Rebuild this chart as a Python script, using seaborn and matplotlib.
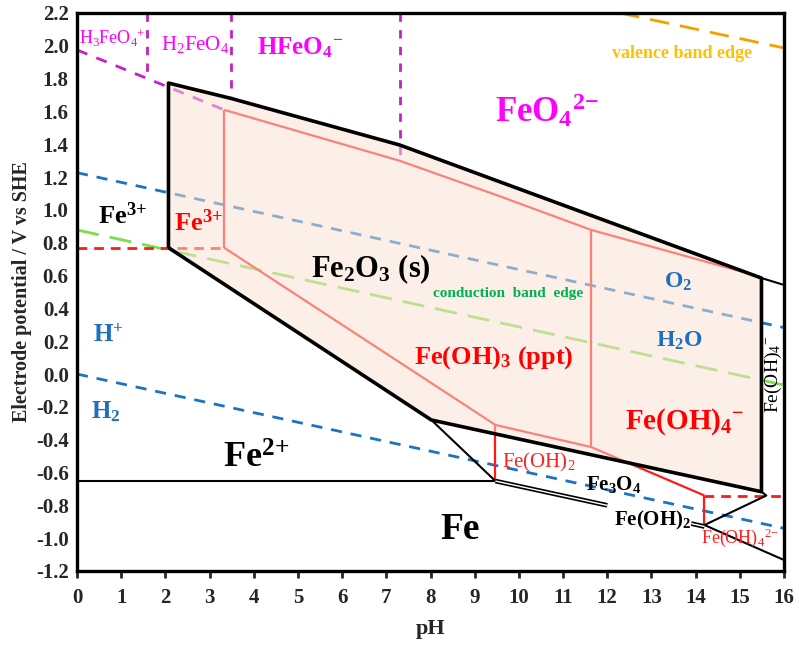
import numpy as np
import pandas as pd
import matplotlib
matplotlib.use("Agg")
import matplotlib.pyplot as plt
import seaborn as sns

# ---------------- data (pH, potential / V vs SHE) ----------------
hull_ph = [2.07, 2.07, 3.48, 7.30, 15.49, 15.49, 8.02, 2.07]
hull_v = [0.77, 1.773, 1.68, 1.396, 0.585, -0.717, -0.28, 0.77]

thin1_ph = [15.49, 16.0]
thin1_v = [0.585, 0.543]
fe2_fe_ph = [0.0, 9.47]
fe2_fe_v = [-0.652, -0.652]
fe2_fe3o4_ph = [8.02, 9.47]
fe2_fe3o4_v = [-0.28, -0.652]
fe3o4_fe_ph = [9.47, 12.0]
fe3o4_fe_v = [-0.652, -0.80]
feoh2_fe_ph = [13.9, 14.2]
feoh2_fe_v = [-0.911, -0.929]
feoh2_up_ph = [14.2, 15.6, 15.49]
feoh2_up_v = [-0.92, -0.74, -0.717]
feoh4_fe_ph = [14.2, 16.0]
feoh4_fe_v = [-0.92, -1.133]

red_v1_ph = [3.33, 3.33]
red_v1_v = [0.77, 1.61]
red_top_ph = [3.33, 7.30, 9.50, 11.64, 15.10]
red_top_v = [1.61, 1.30, 1.09, 0.878, 0.62]
red_low_ph = [3.33, 9.47, 11.64, 14.2]
red_low_v = [0.77, -0.31, -0.445, -0.74]
red_v2_ph = [11.64, 11.64]
red_v2_v = [0.878, -0.445]
red_v3_ph = [9.47, 9.47]
red_v3_v = [-0.31, -0.652]
red_v4_ph = [14.2, 14.2]
red_v4_v = [-0.74, -0.92]
red_d1_ph = [0.0, 3.33]
red_d1_v = [0.77, 0.77]
red_d2_ph = [14.2, 16.0]
red_d2_v = [-0.74, -0.74]

mag_diag_ph = [0.0, 3.33]
mag_diag_v = [1.975, 1.61]
mag_v1_ph = [1.58, 1.58]
mag_v1_v = [2.2, 1.81]
mag_v2_ph = [3.48, 3.48]
mag_v2_v = [2.2, 1.68]
mag_v3_ph = [7.30, 7.30]
mag_v3_v = [2.2, 1.30]

o2_ph = [0.0, 16.0]
o2_v = [1.227, 0.283]
h2_ph = [0.0, 16.0]
h2_v = [0.0, -0.94]
cb_ph = [0.0, 16.0]
cb_v = [0.878, -0.067]
vb_ph = [12.29, 16.0]
vb_v = [2.2, 1.987]

x_ticks = list(range(0, 17))
y_ticks = [-1.2, -1.0, -0.8, -0.6, -0.4, -0.2, 0.0, 0.2, 0.4, 0.6, 0.8,
           1.0, 1.2, 1.4, 1.6, 1.8, 2.0, 2.2]

# ---------------- style ----------------
sns.set_theme(style="white")
plt.rcParams["font.family"] = ["Liberation Serif", "DejaVu Serif"]
plt.rcParams["font.weight"] = "bold"
plt.rcParams["mathtext.fontset"] = "custom"
plt.rcParams["mathtext.rm"] = "Liberation Serif"
plt.rcParams["mathtext.bf"] = "Liberation Serif:bold"
plt.rcParams["axes.unicode_minus"] = False

fig = plt.figure(figsize=(7.99, 6.52), dpi=100)
ax = fig.add_axes([77 / 799, 81 / 652, 707 / 799, 558 / 652])

BLUE = "#1b74c2"
GREEN = "#7fdc4c"
MAG = "#c81ec8"
ORANGE = "#f5a000"
RED = "#ff1a1a"


def seg(x, y, color, lw, ls="-", z=2):
    df = pd.DataFrame({"pH": x, "E": y})
    sns.lineplot(data=df, x="pH", y="E", sort=False, estimator=None, ax=ax,
                 color=color, linewidth=lw, linestyle=ls, zorder=z,
                 legend=False, solid_capstyle="butt", dash_capstyle="butt")


# dashed reference lines (under the semi-transparent fill)
seg(o2_ph, o2_v, BLUE, 2.0, (0, (4, 3.2)), 1)
seg(h2_ph, h2_v, BLUE, 2.0, (0, (4, 3.2)), 1)
seg(cb_ph, cb_v, GREEN, 2.0, (0, (8, 4)), 1)
seg(vb_ph, vb_v, ORANGE, 2.0, (0, (7, 4)), 1)
seg(mag_diag_ph, mag_diag_v, MAG, 2.0, (0, (4, 3.5)), 1)
seg(mag_v1_ph, mag_v1_v, MAG, 2.0, (0, (3, 3)), 1)
seg(mag_v2_ph, mag_v2_v, MAG, 2.0, (0, (3, 3)), 1)
seg(mag_v3_ph, mag_v3_v, MAG, 2.0, (0, (3, 3)), 1)
seg(red_d1_ph, red_d1_v, RED, 2.0, (0, (3.5, 2.5)), 1)
seg(red_d2_ph, red_d2_v, RED, 2.0, (0, (3.5, 2.5)), 1)

# red solid boundaries
for xs, ys in [(red_v1_ph, red_v1_v), (red_top_ph, red_top_v),
               (red_low_ph, red_low_v), (red_v2_ph, red_v2_v),
               (red_v3_ph, red_v3_v), (red_v4_ph, red_v4_v)]:
    seg(xs, ys, RED, 1.6, "-", 1.5)

# semi-transparent Fe2O3 stability fill
ax.fill(hull_ph, hull_v, color="#f9e2d3", alpha=0.52, lw=0, zorder=3)

# black boundaries
seg(hull_ph, hull_v, "black", 2.6, "-", 4)
for xs, ys in [(thin1_ph, thin1_v), (fe2_fe_ph, fe2_fe_v),
               (fe2_fe3o4_ph, fe2_fe3o4_v), (feoh2_up_ph, feoh2_up_v),
               (feoh4_fe_ph, feoh4_fe_v)]:
    seg(xs, ys, "black", 1.5, "-", 4)
for xs, ys in [(fe3o4_fe_ph, fe3o4_fe_v), (feoh2_fe_ph, feoh2_fe_v)]:
    seg(xs, ys, "black", 3.4, "-", 4)
    seg(xs, ys, "white", 1.0, "-", 4.5)

# ---------------- labels ----------------
MT = "#ff00ff"
TB = "#1f6fc0"
labels = [
    (0.79, 2.045, r"$\mathregular{H_3FeO_4{}^{{+}}}$", MT, 13, "normal"),
    (2.67, 2.01, r"$\mathregular{H_2FeO_4}$", MT, 15, "normal"),
    (5.05, 1.99, r"$\mathregular{HFeO_4{}^{{-}}}$", MT, 18, "bold"),
    (10.63, 1.60, r"$\mathregular{FeO_4{}^{2{-}}}$", MT, 25, "bold"),
    (13.7, 1.955, "valence band edge", "#ffc000", 13, "bold"),
    (1.02, 0.965, r"Fe$\mathregular{^{3{+}}}$", "black", 19, "bold"),
    (2.74, 0.925, r"Fe$\mathregular{^{3{+}}}$", "#ff0000", 19, "bold"),
    (6.65, 0.64, r"Fe$\mathregular{_2}$O$\mathregular{_3}$ (s)", "black", 22, "bold"),
    (9.75, 0.49, "conduction  band  edge", "#00b050", 11, "bold"),
    (13.6, 0.56, r"O$\mathregular{_2}$", TB, 17, "bold"),
    (13.64, 0.20, r"H$\mathregular{_2}$O", TB, 17, "bold"),
    (0.70, 0.235, r"H$\mathregular{^{{+}}}$", TB, 18, "bold"),
    (0.66, -0.23, r"H$\mathregular{_2}$", TB, 18, "bold"),
    (9.43, 0.10, r"Fe(OH)$\mathregular{_3}$ (ppt)", "#ff0000", 19, "bold"),
    (13.75, -0.29, r"Fe(OH)$\mathregular{_4{}^{{-}}}$", "#ff0000", 21, "bold"),
    (4.05, -0.52, r"Fe$\mathregular{^{2{+}}}$", "black", 26, "bold"),
    (8.67, -0.95, "Fe", "black", 27, "bold"),
    (10.44, -0.54, r"Fe(OH)$\mathregular{_2}$", "#ff2020", 15, "normal"),
    (12.14, -0.67, r"Fe$\mathregular{_3}$O$\mathregular{_4}$", "black", 15, "bold"),
    (13.02, -0.89, r"Fe(OH)$\mathregular{_2}$", "black", 15, "bold"),
    (15.0, -1.0, r"Fe(OH)$\mathregular{_4{}^{2{-}}}$", "#ff2020", 13, "normal"),
]
for x, y, s, c, fs, fw in labels:
    ax.text(x, y, s, color=c, fontsize=fs, fontweight=fw,
            ha="center", va="center", zorder=6)
ax.text(15.77, 0.0, r"Fe(OH)$\mathregular{_4{}^{{-}}}$", color="black",
        fontsize=14, fontweight="normal", rotation=90,
        ha="center", va="center", zorder=6)

# ---------------- axes ----------------
ax.set_xlim(0, 16)
ax.set_ylim(-1.2, 2.2)
ax.set_xticks(x_ticks)
ax.set_yticks(y_ticks)
ax.set_yticklabels([f"{v:.1f}" for v in y_ticks])
ax.tick_params(axis="x", direction="out", length=5, width=2, pad=7,
               labelsize=15, bottom=True)
ax.tick_params(axis="y", length=0, pad=6, labelsize=15)
for lab in ax.get_xticklabels() + ax.get_yticklabels():
    lab.set_fontweight("bold")
for sp in ax.spines.values():
    sp.set_color("black")
    sp.set_linewidth(2.4)
ax.set_xlabel("pH", fontsize=16, fontweight="bold", labelpad=8)
ax.set_ylabel("Electrode potential / V vs SHE", fontsize=14.5,
              fontweight="bold", labelpad=3)
ax.grid(False)

fig.savefig("out.png", dpi=100, facecolor="white")
